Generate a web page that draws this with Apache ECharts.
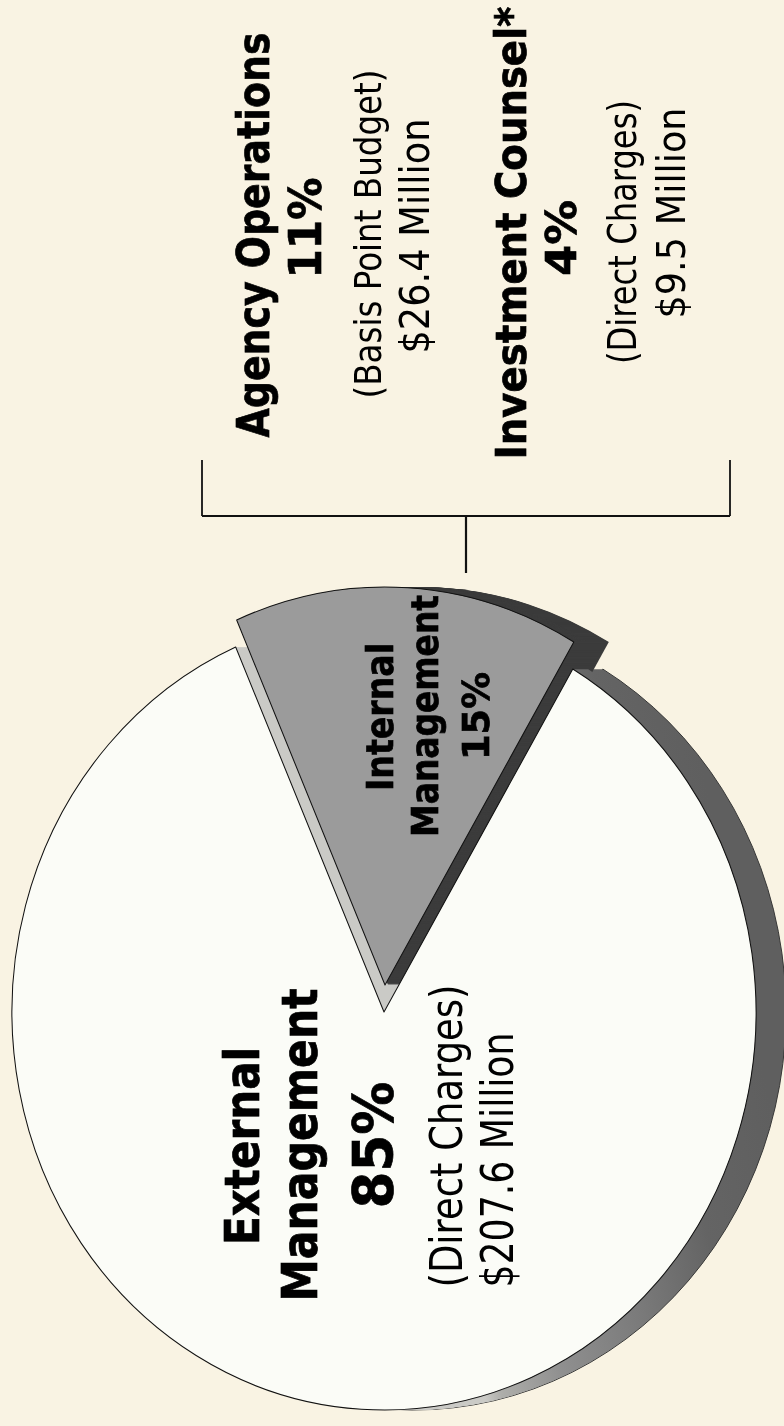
<!DOCTYPE html>
<html>
<head>
<meta charset="utf-8">
<style>
    html, body { margin: 0; padding: 0; background: #f9f3e3; overflow: hidden; }
    #wrap { position: relative; width: 784px; height: 1426px; overflow: hidden; }
    /* the pie is an ellipse in the picture, echarts only draws circles so squeeze its layer */
    #pie { position: absolute; left: 0; top: 0; width: 839px; height: 1426px; transform-origin: 0 0; transform: scaleX(0.9347); }
    #labels { position: absolute; left: 0; top: 0; width: 784px; height: 1426px; }
</style>
</head>
<body>
<div id="wrap">
    <div id="pie"></div>
    <div id="labels"></div>
</div>
<script src="https://cdn.jsdelivr.net/npm/echarts@6/dist/echarts.min.js"></script>
<script>
    var categories = ['External Management', 'Internal Management'];
    var shares = [85, 15];

    var externalText = ['External', 'Management', '85%', '(Direct Charges)', '$207.6 Million'];
    var internalText = ['Internal', 'Management', '15%'];
    var agencyText = ['Agency Operations', '11%', '(Basis Point Budget)', '$26.4 Million'];
    var counselText = ['Investment Counsel*', '4%', '(Direct Charges)', '$9.5 Million'];

    var SX = 0.9347;
    var RADIUS = 398;
    var RIM_DEPTH = 30;
    var WEDGE_DEPTH = 35;

    function pieLayer(centerX, centerY, externalStyle, internalStyle) {
        return {
            type: 'pie',
            silent: true,
            animation: false,
            clockwise: true,
            startAngle: 59.5,
            center: [centerX / SX, centerY],
            radius: [0, RADIUS],
            label: { show: false },
            labelLine: { show: false },
            emphasis: { disabled: true },
            data: categories.map(function (name, i) {
                return { name: name, value: shares[i], itemStyle: i === 0 ? externalStyle : internalStyle };
            })
        };
    }

    var hidden = { color: 'transparent', borderWidth: 0 };
    // runs a bit diagonal: dark on the upper right of the wall, pale towards the bottom and in the notch
    var rimFill = {
        type: 'linear', x: 433, y: 1000, x2: 786, y2: 924, global: true,
        colorStops: [
            { offset: 0, color: '#cacac6' },
            { offset: 0.05, color: '#aeaeaa' },
            { offset: 0.24, color: '#8f8f8f' },
            { offset: 0.5, color: '#7a7a7a' },
            { offset: 0.74, color: '#646464' },
            { offset: 1, color: '#5f5f5f' }
        ]
    };

    function rimLayer(d) {
        return pieLayer(384 + d, 1012, {
            color: rimFill,
            borderWidth: d === RIM_DEPTH ? 1 : 0,
            borderColor: '#333'
        }, hidden);
    }

    var series = [];
    var d;
    // wall of the big slice, also gives the light strip inside the notch
    for (d = RIM_DEPTH; d > 15; d--) {
        series.push(rimLayer(d));
    }
    // dark wall of the pulled out wedge
    for (d = WEDGE_DEPTH; d >= 1; d--) {
        series.push(pieLayer(385 + d, 985, hidden, { color: '#3c3c3c', borderWidth: 0 }));
    }
    for (d = 15; d >= 1; d--) {
        series.push(rimLayer(d));
    }
    // top faces
    series.push(pieLayer(384, 1012, { color: '#fbfcf7', borderWidth: 1.1, borderColor: '#111' }, hidden));
    series.push(pieLayer(385, 985, hidden, { color: '#9b9b9b', borderWidth: 1.1, borderColor: '#111' }));

    var pieChart = echarts.init(document.getElementById('pie'), null, { renderer: 'svg' });
    pieChart.setOption({ backgroundColor: 'transparent', series: series });

    var ctx = document.createElement('canvas').getContext('2d');
    var FAMILY = '"DejaVu Sans", Verdana, sans-serif';

    // rotated text line, the original is squeezed along its reading direction
    function textLine(str, baseX, midY, fontSize, length, bold) {
        var font = (bold ? 'bold ' : '') + fontSize + 'px ' + FAMILY;
        ctx.font = font;
        return {
            type: 'text',
            silent: true,
            x: baseX - 0.35 * fontSize + 3,
            y: midY,
            rotation: Math.PI / 2,
            scaleX: length / ctx.measureText(str).width,
            style: {
                text: str,
                font: font,
                fill: '#000',
                stroke: bold ? '#000' : null,
                lineWidth: bold ? 0.7 : 0,
                align: 'center',
                verticalAlign: 'middle'
            }
        };
    }

    function stroke(x1, y1, x2, y2, width) {
        return {
            type: 'line',
            silent: true,
            shape: { x1: x1, y1: y1, x2: x2, y2: y2 },
            style: { stroke: '#111', lineWidth: width }
        };
    }

    var elements = [
        textLine(externalText[0], 260, 1146, 48, 198, true),
        textLine(externalText[1], 318, 1145, 49, 313, true),
        textLine(externalText[2], 394, 1145, 56, 127, true),
        textLine(externalText[3], 463, 1136, 45, 303, false),
        textLine(externalText[4], 514, 1160, 44, 255, false),

        textLine(internalText[0], 393, 717, 38, 148, true),
        textLine(internalText[1], 438, 716, 38, 242, true),
        textLine(internalText[2], 489, 716, 38, 88, true),

        textLine(agencyText[0], 270, 235, 45, 405, true),
        textLine(agencyText[1], 322, 228, 45, 101, true),
        textLine(agencyText[2], 381, 234, 38, 329, false),
        textLine(agencyText[3], 430, 236, 40, 235, false),

        textLine(counselText[0], 527, 233, 43, 453, true),
        textLine(counselText[1], 577, 238, 43, 76, true),
        textLine(counselText[2], 637, 232, 39, 264, false),
        textLine(counselText[3], 686, 213, 39, 211, false),

        stroke(202, 460, 202, 516, 1.8),
        stroke(730, 460, 730, 516, 1.8),
        stroke(202, 516, 730, 516, 1.8),
        stroke(466, 516, 466, 573, 2.2)
    ];

    var labelChart = echarts.init(document.getElementById('labels'));
    labelChart.setOption({ backgroundColor: 'transparent', animation: false, graphic: { elements: elements } });
</script>
</body>
</html>
